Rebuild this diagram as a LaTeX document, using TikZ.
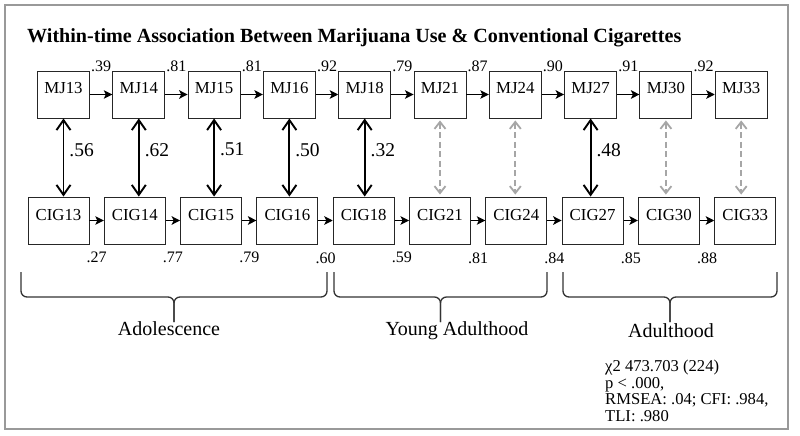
\documentclass[tikz,border=0pt]{standalone}
\usepackage{fontspec}
\setmainfont{Liberation Serif}
\usetikzlibrary{arrows.meta}

\tikzset{
  mjbox/.style={draw=black!85, line width=0.9pt, minimum width=52pt, inner sep=0pt,
    text height=22pt, text depth=25pt, font=\fontsize{16.8}{18}\selectfont},
  cigbox/.style={mjbox, minimum width=61pt, text height=23pt, text depth=24pt},
  seqarrow/.style={-{Stealth[length=8.5pt,width=8.5pt,inset=2pt]}, line width=1.8pt},
  assoc/.style={{Straight Barb[length=10pt,width=14pt]}-{Straight Barb[length=10pt,width=14pt]}, line width=1.9pt},
  noassoc/.style={{Straight Barb[length=7pt,width=11pt]}-{Straight Barb[length=7pt,width=11pt]}, line width=1.8pt,
    draw=black!35, dash pattern=on 6pt off 3.5pt, shorten <=2pt, shorten >=2pt},
  coef/.style={inner sep=0pt, font=\fontsize{16}{18}\selectfont},
  corr/.style={inner sep=0pt, font=\fontsize{19.5}{22}\selectfont},
  bracket/.style={draw=black!80, line width=1.3pt, rounded corners=6pt},
  phase/.style={inner sep=0pt, anchor=base, font=\fontsize{20}{24}\selectfont}
}

\begin{document}
\begin{tikzpicture}[x=1pt,y=-1pt]
                \fill[white] (0,0) rectangle (800,436);
                \useasboundingbox (0,0) rectangle (800,436);
                \draw[black!40, line width=1.2pt] (5,5) rectangle (788,429);
                \node[anchor=base west, inner sep=0pt, font=\bfseries\fontsize{20.1}{22}\selectfont] (title) at (27,43)
                    {Within-time Association Between Marijuana Use \& Conventional Cigarettes};
                % the two rows of measures
                \foreach \t [count=\i from 0] in {13,14,15,16,18,21,24,27,30,33} {
                    \node[mjbox] (mj\t) at ({63.5+75.3*\i},94.5) {MJ\t};
                    \node[cigbox] (cig\t) at ({58.5+76.3*\i},220.5) {CIG\t};
                }
                % stability paths
                \foreach \a/\b/\p/\q in {13/14/.39/.27,14/15/.81/.77,15/16/.81/.79,16/18/.92/.60,18/21/.79/.59,
                                         21/24/.87/.81,24/27/.90/.84,27/30/.91/.85,30/33/.92/.88} {
                    \draw[seqarrow] (mj\a) -- node[coef, above=21.5pt] {\p} (mj\b);
                    \draw[seqarrow] (cig\a) -- node[coef, below=31pt] {\q} (cig\b);
                }
                % within-time associations
                \foreach \t/\r in {13/.56,14/.62,15/.51,16/.50,18/.32,27/.48}
                    \draw[assoc] (mj\t.south) -- node[corr, pos=.4, right=5pt] {\r} (mj\t.south |- cig\t.north);
                \foreach \t in {21,24,30,33}
                    \draw[noassoc] (mj\t.south) -- (mj\t.south |- cig\t.north);
                % developmental periods
                \draw[bracket] (21,272) -- (21,297) -- (174,297) -- (174,322);
                \draw[bracket] (327,272) -- (327,297) -- (174,297) -- (174,322);
                \draw[bracket] (334,272) -- (334,297) -- (440.5,297) -- (440.5,322);
                \draw[bracket] (547,272) -- (547,297) -- (440.5,297) -- (440.5,322);
                \draw[bracket] (563,272) -- (563,297) -- (670,297) -- (670,322);
                \draw[bracket] (777,272) -- (777,297) -- (670,297) -- (670,322);
                \node[phase] (adol) at (169,335) {Adolescence};
                \node[phase] (young) at (457,335) {Young Adulthood};
                \node[phase] (adult) at (671,337) {Adulthood};
                \node[anchor=north west, inner sep=0pt, align=left, font=\fontsize{16.6}{16.8}\selectfont] (fit) at (605,359.5)
                    {χ2 473.703 (224)\\p < .000,\\RMSEA: .04; CFI: .984,\\TLI: .980};
            \end{tikzpicture}
\end{document}
